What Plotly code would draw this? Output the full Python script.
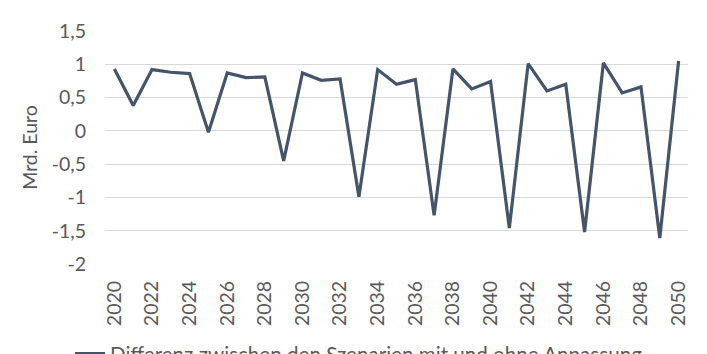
import plotly.graph_objects as go

years = [str(y) for y in range(2020, 2051)]
diff_values = [0.93, 0.38, 0.92, 0.88, 0.86, -0.02, 0.87, 0.80, 0.81, -0.45,
               0.87, 0.76, 0.78, -0.99, 0.92, 0.70, 0.77, -1.27, 0.93, 0.63,
               0.74, -1.46, 1.01, 0.60, 0.70, -1.52, 1.02, 0.57, 0.66, -1.61,
               1.05]
x_tick_vals = ["2020", "2022", "2024", "2026", "2028", "2030", "2032", "2034",
               "2036", "2038", "2040", "2042", "2044", "2046", "2048", "2050"]
y_tick_vals = [-2, -1.5, -1, -0.5, 0, 0.5, 1, 1.5]
y_tick_text = ["-2", "-1,5", "-1", "-0,5", "0", "0,5", "1", "1,5"]
series_name = "Differenz zwischen den Szenarien mit und ohne Anpassung"

FONT = "Lato"
GRAY = "#595959"

fig = go.Figure()
fig.add_trace(go.Scatter(
    x=years, y=diff_values, mode="lines", name=series_name,
    line=dict(color="#44546A", width=3.2),
))

fig.update_layout(
    width=707, height=354,
    margin=dict(l=105, r=19, t=31, b=90, autoexpand=False),
    paper_bgcolor="white", plot_bgcolor="white",
    font=dict(family=FONT, size=19.5, color=GRAY),
    showlegend=True,
    legend=dict(orientation="h", x=-0.06, xanchor="left", y=-0.385,
                yanchor="middle", font=dict(size=20.6, color=GRAY),
                bgcolor="rgba(0,0,0,0)"),
    separators=",.",
)
fig.update_xaxes(
    type="category", range=[-0.5, 30.5],
    tickvals=x_tick_vals, tickangle=-90,
    showgrid=False, showline=False, zeroline=False,
    ticks="", ticklabelstandoff=12,
    tickfont=dict(family=FONT, size=19.5, color=GRAY),
)
fig.update_yaxes(
    range=[-2, 1.5], tickvals=y_tick_vals, ticktext=y_tick_text,
    showgrid=True, gridcolor="#D9D9D9", gridwidth=1,
    zeroline=False, showline=False, ticks="", ticklabelstandoff=18,
    tickfont=dict(family=FONT, size=19.5, color=GRAY),
    title=dict(text="Mrd. Euro", font=dict(family=FONT, size=19.5, color=GRAY),
               standoff=8),
)

fig.write_html("out.html")
